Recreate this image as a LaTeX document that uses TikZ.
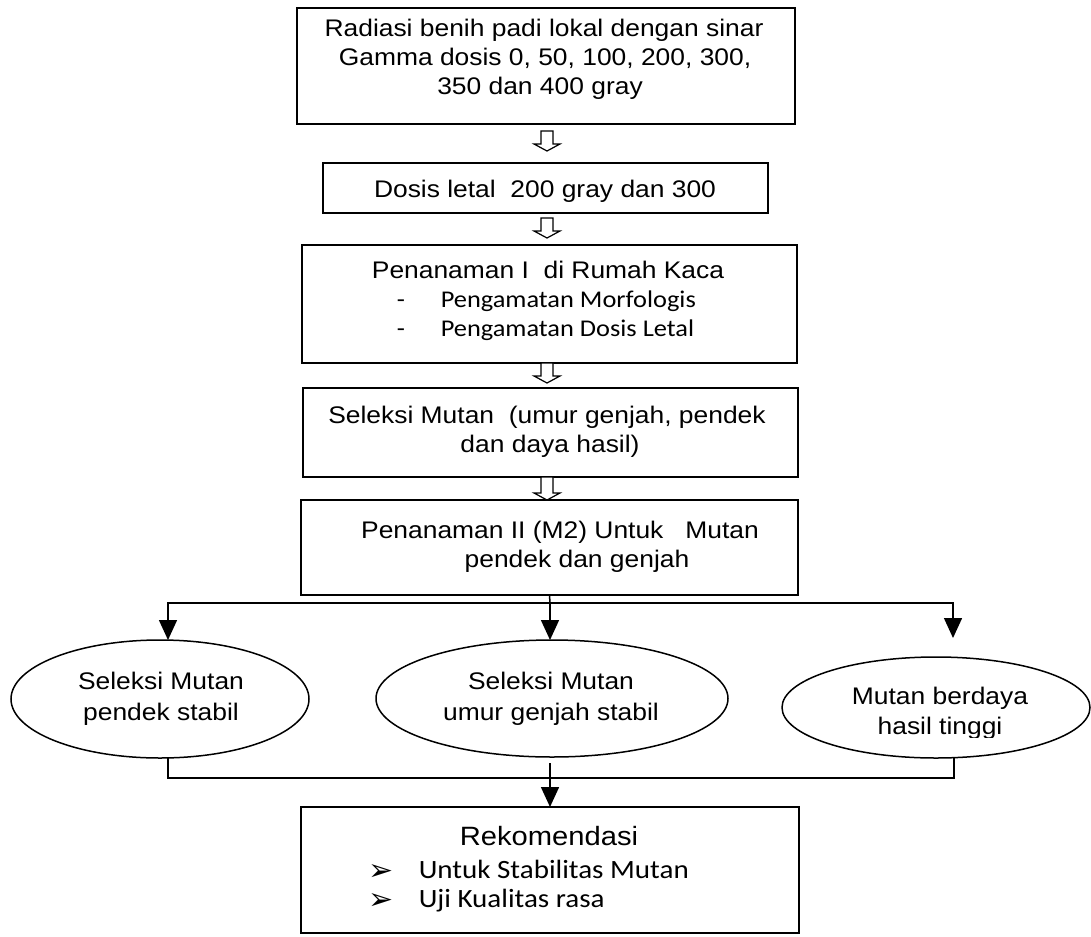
\documentclass[tikz,border=0pt]{standalone}
\usepackage{fontspec}
\setmainfont{Liberation Sans}[FakeStretch=1.1]
\newfontfamily\calfont{Carlito}[FakeStretch=1.1]
\newfontfamily\symfont{DejaVu Sans}
\usetikzlibrary{shapes.geometric,arrows.meta,calc}
\newcommand\hollowarrow[2]{%
  \draw[blk] let \p1=(#1), \p2=(#2) in
    (\x1-6pt,\y1) -- (\x1+6pt,\y1) -- (\x1+6pt,\y2+7pt) -- (\x1+13pt,\y2+7pt)
    -- (\x1,\y2) -- (\x1-13pt,\y2+7pt) -- (\x1-6pt,\y2+7pt) -- cycle;}
\begin{document}
\begin{tikzpicture}[x=1pt,y=-1pt,line width=1.5pt,
  box/.style={draw,rectangle,inner sep=0pt,outer sep=0pt},
  oval/.style={draw,ellipse,inner sep=0pt,outer sep=0pt},
  txt/.style={inner sep=0pt,anchor=base,font=\fontsize{24}{29}\selectfont},
  ltxt/.style={inner sep=0pt,anchor=base west,font=\calfont\fontsize{24}{29}\selectfont},
  btxt/.style={inner sep=0pt,anchor=base west,font=\calfont\fontsize{26.4}{30}\selectfont},
  bul/.style={inner sep=0pt,anchor=base west,font=\symfont\fontsize{30}{34}\selectfont},
  tri/.style={-{Triangle[width=18pt,length=20pt]}},
  blk/.style={line width=1.2pt,fill=white}]
\useasboundingbox (0,0) rectangle (1091,936);

% boxes
\node[box,minimum width=498pt,minimum height=116pt] (b1) at (546,66) {};
\node[box,minimum width=445pt,minimum height=50pt] (b2) at (545.5,188) {};
\node[box,minimum width=495pt,minimum height=118pt] (b3) at (549.5,304) {};
\node[box,minimum width=495pt,minimum height=89pt] (b4) at (550.5,432.5) {};
\node[box,minimum width=497pt,minimum height=95pt] (b5) at (549.5,547.5) {};
\node[box,minimum width=498pt,minimum height=126pt] (b6) at (550,870) {};

% ellipses
\node[oval,minimum width=298pt,minimum height=118pt] (e1) at (160,699) {};
\node[oval,minimum width=352pt,minimum height=117pt] (e2) at (552,698.5) {};
\node[oval,minimum width=308pt,minimum height=101pt] (e3) at (936,707.5) {};

% texts
\node[txt] (t1a) at (544,37) {Radiasi benih padi lokal dengan sinar};
\node[txt] (t1b) at (545,66) {Gamma dosis 0, 50, 100, 200, 300,};
\node[txt] (t1c) at (540,95) {350 dan 400 gray};
\node[txt] (t2) at (545,197) {Dosis letal\ \ 200 gray dan 300};
\node[txt] (t3a) at (548,278) {Penanaman I\ \ di Rumah Kaca};
\node[ltxt] (t3d1) at (396,307) {-};
\node[ltxt] (t3b) at (440,307) {Pengamatan Morfologis};
\node[ltxt] (t3d2) at (396,336) {-};
\node[ltxt] (t3c) at (440,336) {Pengamatan Dosis Letal};
\node[txt] (t4a) at (547,423) {Seleksi Mutan\ \ (umur genjah, pendek};
\node[txt] (t4b) at (550,452) {dan daya hasil)};
\node[txt] (t5a) at (560,538) {Penanaman II (M2) Untuk\ \ \ Mutan};
\node[txt] (t5b) at (577,567) {pendek dan genjah};
\node[txt] (t7a) at (161,689) {Seleksi Mutan};
\node[txt] (t7b) at (161,720) {pendek stabil};
\node[txt] (t8a) at (551,689) {Seleksi Mutan};
\node[txt] (t8b) at (551,720) {umur genjah stabil};
\node[txt] (t9a) at (940,704) {Mutan berdaya};
\begin{scope}
\clip (780,640) rectangle (1091,737.5);
\node[txt] (t9b) at (940,734) {hasil tinggi};
\end{scope}
\node[txt,font=\fontsize{26.5}{30}\selectfont] (t6a) at (549,845) {Rekomendasi};
\node[bul] (k1) at (368,880) {➢};
\node[btxt] (t6b) at (418,878) {Untuk Stabilitas Mutan};
\node[bul] (k2) at (368,909) {➢};
\node[btxt] (t6c) at (418,907) {Uji Kualitas rasa};

% hollow arrows
\coordinate (h1a) at (547,131); \coordinate (h1b) at (547,151);
\coordinate (h2a) at (547,218); \coordinate (h2b) at (547,238);
\coordinate (h3a) at (547,363); \coordinate (h3b) at (547,383);
\coordinate (h4a) at (547,477); \coordinate (h4b) at (547,500);
\hollowarrow{h1a}{h1b}
\hollowarrow{h2a}{h2b}
\hollowarrow{h3a}{h3b}
\hollowarrow{h4a}{h4b}

% branching
\coordinate (j) at (550,603);
\coordinate (r) at (953,638);
\draw (b5.south) -- (j);
\draw[tri] (j) -| ($(e1.north)+(8,0)$);
\draw[tri] (j) -- (j |- e2.north);
\draw[tri] (j) -| (r);

% merging
\draw ($(e1.south)+(8,0)$) -- ++(0,20) -| ($(e3.south)+(18,0)$);
\coordinate (m) at (550,763);
\draw[tri] (m) -- (b6.north);
\end{tikzpicture}
\end{document}
